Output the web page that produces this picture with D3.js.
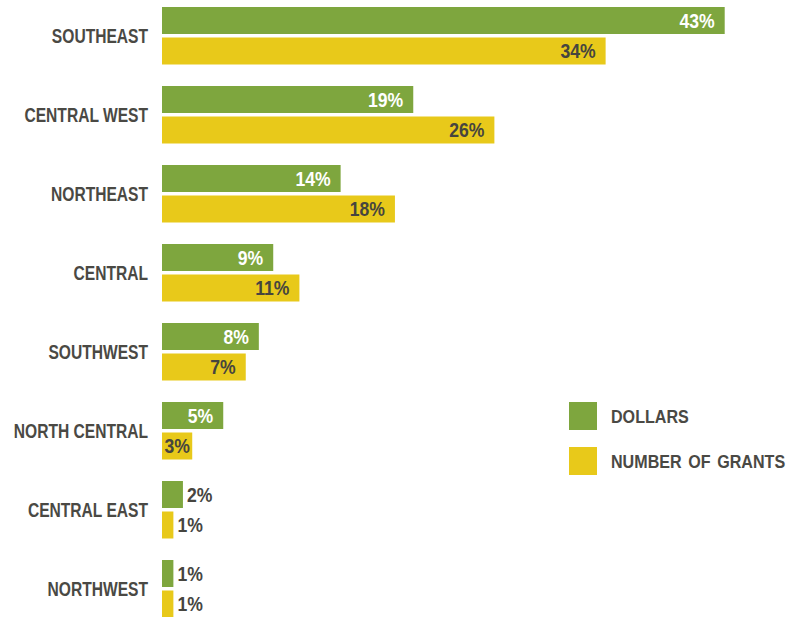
<!DOCTYPE html>
<html>
<head>
<meta charset="utf-8">
<script src="https://cdn.jsdelivr.net/npm/d3@7"></script>
<style>
  html, body { margin: 0; padding: 0; background: #ffffff; }
  svg { display: block; }
  text { font-family: "Liberation Sans", Arial, sans-serif; }
</style>
</head>
<body>
<svg id="chart" width="791" height="617"></svg>
<script>
// ---- data ----
const categories = ["SOUTHEAST", "CENTRAL WEST", "NORTHEAST", "CENTRAL", "SOUTHWEST", "NORTH CENTRAL", "CENTRAL EAST", "NORTHWEST"];
const seriesNames = ["DOLLARS", "NUMBER OF GRANTS"];
// bar lengths (percent) as drawn in the picture
const dollarsValues = [43, 19.2, 13.65, 8.5, 7.4, 4.68, 1.6, 0.87];
const grantsValues = [33.9, 25.4, 17.8, 10.5, 6.4, 2.31, 0.87, 0.87];
// printed labels
const dollarsLabels = ["43%", "19%", "14%", "9%", "8%", "5%", "2%", "1%"];
const grantsLabels = ["34%", "26%", "18%", "11%", "7%", "3%", "1%", "1%"];

const colors = { "DOLLARS": "#7ea63e", "NUMBER OF GRANTS": "#e8c91a" };
const darkText = "#46453f";
const labelText = "#4a4944";

const svg = d3.select("#chart");

const x = d3.scaleLinear().domain([0, 43]).range([162, 724.7]);
const y0 = d3.scaleBand().domain(categories).range([7, 7 + 8 * 79 - 21.5]).paddingInner(21.5 / 79).paddingOuter(0);
const y1 = d3.scaleBand().domain(seriesNames).range([0, y0.bandwidth()]).paddingInner(3.5 / 30.5).paddingOuter(0);

const rows = [];
categories.forEach((c, i) => {
  rows.push({ cat: c, series: "DOLLARS", value: dollarsValues[i], label: dollarsLabels[i] });
  rows.push({ cat: c, series: "NUMBER OF GRANTS", value: grantsValues[i], label: grantsLabels[i] });
});

// condensed look: horizontal scale of a regular font
const catScale = 0.78, valScale = 0.88, legScale = 0.87;

// category labels
svg.append("g").selectAll("text").data(categories).join("text")
  .attr("transform", d => `translate(148,${y0(d) + y0.bandwidth() / 2 + 0.8}) scale(${catScale},1)`)
  .attr("text-anchor", "end")
  .attr("dominant-baseline", "central")
  .attr("font-size", 20)
  .attr("font-weight", "bold")
  .attr("fill", labelText)
  .text(d => d);

// bars
const g = svg.append("g");
g.selectAll("rect").data(rows).join("rect")
  .attr("x", x(0))
  .attr("y", d => y0(d.cat) + y1(d.series))
  .attr("width", d => x(d.value) - x(0))
  .attr("height", y1.bandwidth())
  .attr("fill", d => colors[d.series]);

// value labels
const labels = g.selectAll("text.val").data(rows).join("text")
  .attr("class", "val")
  .attr("dominant-baseline", "central")
  .attr("font-size", 20)
  .attr("font-weight", "bold")
  .text(d => d.label);

labels.each(function(d) {
  const t = d3.select(this);
  const w = this.getComputedTextLength() * valScale;
  const bw = x(d.value) - x(0);
  const cy = y0(d.cat) + y1(d.series) + y1.bandwidth() / 2 + 0.5;
  if (bw < w) {
    t.attr("transform", `translate(${x(d.value) + 4},${cy}) scale(${valScale},1)`)
      .attr("text-anchor", "start").attr("fill", darkText);
  } else {
    const pad = Math.min(10, (bw - w) / 2);
    t.attr("transform", `translate(${x(d.value) - pad},${cy}) scale(${valScale},1)`)
      .attr("text-anchor", "end")
      .attr("fill", d.series === "DOLLARS" ? "#ffffff" : darkText);
  }
});

// legend
const legendY = [402, 447];
const leg = svg.append("g");
seriesNames.forEach((s, i) => {
  leg.append("rect").attr("x", 569).attr("y", legendY[i]).attr("width", 28).attr("height", 28).attr("fill", colors[s]);
  leg.append("text")
    .attr("transform", `translate(611,${legendY[i] + 14.5}) scale(${legScale},1)`)
    .attr("dominant-baseline", "central")
    .attr("font-size", 18.5).attr("font-weight", "bold").attr("fill", labelText)
    .attr("word-spacing", 2.5)
    .text(s);
});
</script>
</body>
</html>
